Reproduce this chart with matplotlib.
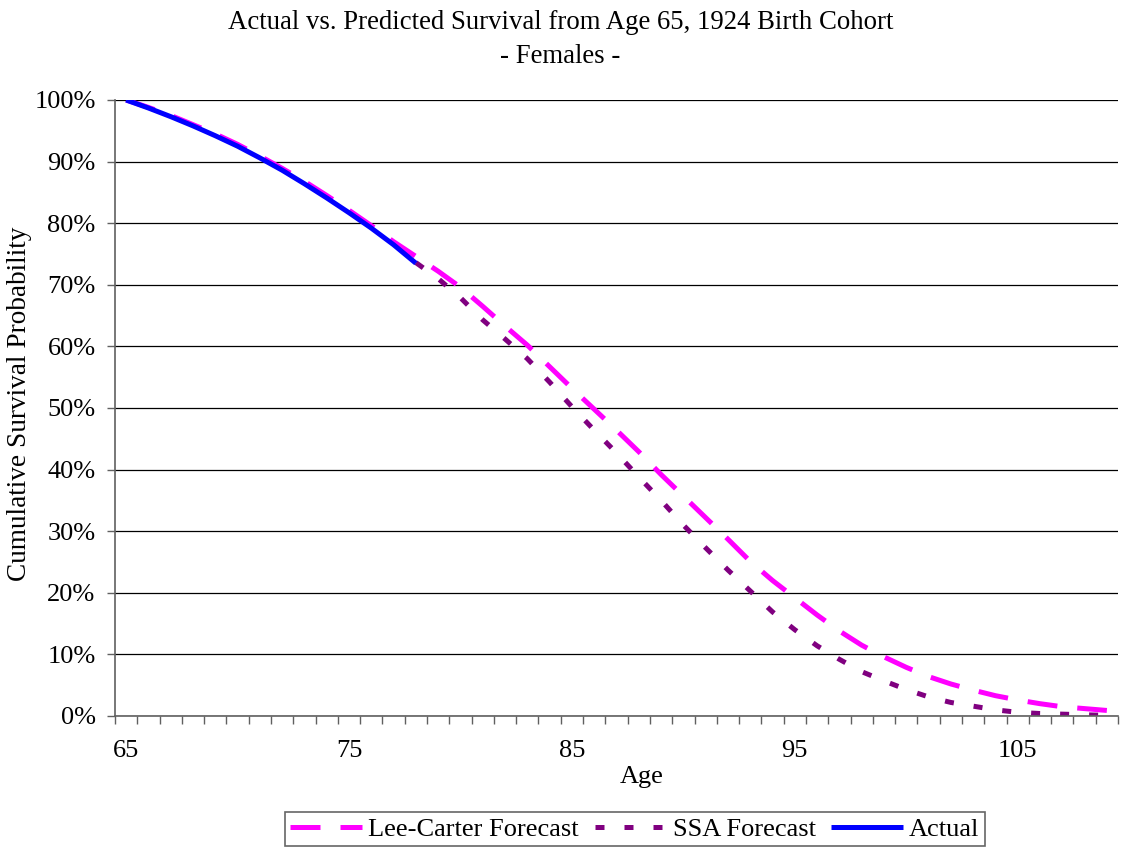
import matplotlib
matplotlib.use("Agg")
import matplotlib.pyplot as plt
import numpy as np

plt.rcParams['font.family'] = ['Liberation Serif', 'DejaVu Serif']

# ages 65..109 (category axis)
ages = list(range(65, 110))

actual = [1.000, 0.987, 0.973, 0.958, 0.942, 0.925, 0.906, 0.886, 0.864, 0.841,
          0.817, 0.792, 0.765, 0.735]

lee_carter = [1.000, 0.988, 0.975, 0.960, 0.945, 0.928, 0.909, 0.889, 0.868, 0.845,
              0.821, 0.796, 0.770, 0.746, 0.722, 0.696, 0.665, 0.633, 0.602, 0.567,
              0.532, 0.498, 0.464, 0.429, 0.392, 0.357, 0.322, 0.287, 0.251, 0.220,
              0.192, 0.164, 0.138, 0.115, 0.096, 0.079, 0.064, 0.052, 0.042, 0.033,
              0.026, 0.020, 0.015, 0.012, 0.009]

# SSA forecast shown from age 78 on
ssa_ages = list(range(78, 110))
ssa = [0.736, 0.710, 0.679, 0.643, 0.612, 0.580, 0.542, 0.502, 0.464, 0.427,
       0.388, 0.350, 0.310, 0.273, 0.237, 0.203, 0.169, 0.140, 0.114, 0.092,
       0.072, 0.057, 0.043, 0.031, 0.022, 0.016, 0.010, 0.006, 0.004, 0.003,
       0.002, 0.001]

fig = plt.figure(figsize=(11.21, 8.5), dpi=100)
ax = fig.add_axes([115/1121, 1-716/850, (1118-115)/1121, (716-100)/850])

lw = 3.6
ax.plot(ages, lee_carter, color='#FF00FF', lw=lw, linestyle=(0, (6, 4)),
        label='Lee-Carter Forecast')
ax.plot(ssa_ages, ssa, color='#800080', lw=lw, linestyle=(0, (1.8, 4)),
        label='SSA Forecast')
ax.plot(ages[:len(actual)], actual, color='#0000FF', lw=lw,
        solid_capstyle='butt', label='Actual')

ax.set_xlim(64.5, 109.5)
ax.set_ylim(0, 1)

fs = 19

# y axis
yt = np.arange(0, 1.01, 0.1)
ax.set_yticks(yt)
ax.set_yticklabels([f"{int(round(v*100))}%" for v in yt], fontsize=fs)
ax.yaxis.grid(True, color='black', lw=0.9)
ax.set_axisbelow(True)

# x axis: tick marks between categories, labels every 10 years
ax.set_xticks(np.arange(64.5, 110, 1))
ax.set_xticklabels([])
ax.set_xticks([65, 75, 85, 95, 105], minor=True)
ax.set_xticklabels(['65', '75', '85', '95', '105'], minor=True, fontsize=fs)
ax.tick_params(axis='x', which='major', length=6, width=1, color='#606060',
               direction='out')
ax.tick_params(axis='x', which='minor', length=0, pad=17)
ax.tick_params(axis='y', length=6, width=1, color='#606060', pad=8)

for s in ['top', 'right']:
    ax.spines[s].set_visible(False)
for s in ['left', 'bottom']:
    ax.spines[s].set_color('#606060')
    ax.spines[s].set_linewidth(1.2)

fig.text(0.5, 1-10/850,
         "Actual vs. Predicted Survival from Age 65, 1924 Birth Cohort\n- Females -",
         ha='center', va='top', fontsize=19.3, linespacing=1.45)
fig.text(642/1121, 1-777/850, "Age", ha='center', va='center', fontsize=fs)
fig.text(20/1121, 1-404/850, "Cumulative Survival Probability", rotation=90,
         ha='center', va='center', fontsize=19.6)

leg = fig.legend(loc='center', bbox_to_anchor=(635/1121, 1-829/850), ncol=3,
                 fontsize=fs, frameon=True, fancybox=False, handlelength=2.7,
                 handletextpad=0.25, columnspacing=0.6, borderpad=0.2,
                 borderaxespad=0)
leg.get_frame().set_edgecolor('#404040')
leg.get_frame().set_linewidth(1.2)

fig.savefig('out.png', dpi=100)
